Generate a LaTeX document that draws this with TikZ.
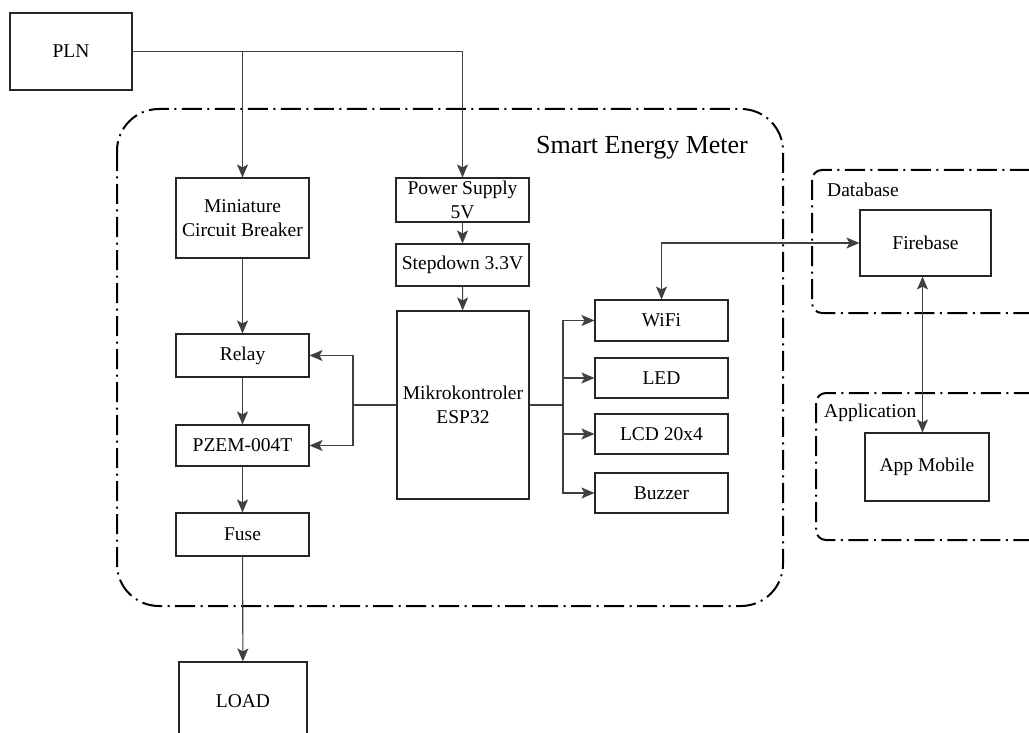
\documentclass[tikz,border=0pt]{standalone}
\usepackage{fontspec}
\setmainfont{Liberation Serif}
\usetikzlibrary{arrows.meta,calc}
\begin{document}
\begin{tikzpicture}[x=1pt,y=-1pt,
  box/.style={draw=black!85,line width=1.1pt,inner sep=0pt,align=center,
    font=\fontsize{19.5}{24}\selectfont},
  conn/.style={draw=black!75,line width=1.1pt},
  arr/.style={conn,-{Stealth[length=13pt,width=11pt,inset=3pt]}},
  biarr/.style={conn,{Stealth[length=13pt,width=11pt,inset=3pt]}-{Stealth[length=13pt,width=11pt,inset=3pt]}},
  group/.style={draw=black,line width=2pt,dash pattern=on 20pt off 5.5pt on 2pt off 5.5pt},
  lbl/.style={inner sep=0pt,font=\fontsize{19.5}{24}\selectfont}]
\useasboundingbox (0,0) rectangle (1029,733);
\clip (0,0) rectangle (1029,733);
\fill[white] (0,0) rectangle (1029,733);

% groups
\draw[group,rounded corners=42pt] (117,109) rectangle (783,606);
\draw[group,rounded corners=10pt] (812,170) rectangle (1070,313);
\draw[group,rounded corners=10pt] (816,393) rectangle (1070,540);
\node[inner sep=0pt,font=\fontsize{26}{30}\selectfont] (tsem) at (642,148) {Smart Energy Meter};
\node[lbl,anchor=west] (tdb) at (827,190) {Database};
\node[lbl,anchor=west] (tapp) at (824,413) {Application};

% nodes
\node[box,minimum width=122pt,minimum height=77pt] (pln) at (71,51.5) {PLN};
\node[box,minimum width=133pt,minimum height=80pt] (mcb) at (242.5,218) {Miniature\\Circuit Breaker};
\node[box,minimum width=133pt,minimum height=44pt] (ps) at (462.5,200) {Power Supply\\5V};
\node[box,minimum width=133pt,minimum height=42pt] (sd) at (462.5,265) {Stepdown 3.3V};
\node[box,minimum width=132pt,minimum height=188pt] (mcu) at (463,405) {Mikrokontroler\\ESP32};
\node[box,minimum width=133pt,minimum height=43pt] (relay) at (242.5,355.5) {Relay};
\node[box,minimum width=133pt,minimum height=41pt] (pzem) at (242.5,445.5) {PZEM-004T};
\node[box,minimum width=133pt,minimum height=43pt] (fuse) at (242.5,534.5) {Fuse};
\node[box,minimum width=128pt,minimum height=78pt] (load) at (243,701) {LOAD};
\node[box,minimum width=133pt,minimum height=41pt] (wifi) at (661.5,320.5) {WiFi};
\node[box,minimum width=133pt,minimum height=40pt] (led) at (661.5,378) {LED};
\node[box,minimum width=133pt,minimum height=40pt] (lcd) at (661.5,434) {LCD 20x4};
\node[box,minimum width=133pt,minimum height=40pt] (buz) at (661.5,493) {Buzzer};
\node[box,minimum width=131pt,minimum height=66pt] (fb) at (925.5,243) {Firebase};
\node[box,minimum width=124pt,minimum height=68pt] (app) at (927,467) {App Mobile};

% junctions
\coordinate (j1) at (242.5,51.5);
\coordinate (cl) at (353,405);
\coordinate (cr) at (563,405);

% connectors
\draw[arr] (pln.east) -| (ps.north);
\draw[arr] (j1) -- (mcb.north);
\draw[arr] (mcb) -- (relay);
\draw[arr] (relay) -- (pzem);
\draw[arr] (pzem) -- (fuse);
\draw[arr] (fuse) -- (load);
\draw[arr] (ps) -- (sd);
\draw[arr] (sd) -- (mcu);
\draw[conn] (mcu.west) -- (cl);
\draw[arr] (cl) |- (relay.east);
\draw[arr] (cl) |- (pzem.east);
\draw[conn] (mcu.east) -- (cr);
\draw[arr] (cr) |- (wifi.west);
\draw[arr] (cr) |- (led.west);
\draw[arr] (cr) |- (lcd.west);
\draw[arr] (cr) |- (buz.west);
\draw[biarr] (wifi.north) |- (fb.west);
\draw[biarr] ($(fb.south)+(-3,0)$) -- ($(fb.south |- app.north)+(-3,0)$);
\end{tikzpicture}
\end{document}
